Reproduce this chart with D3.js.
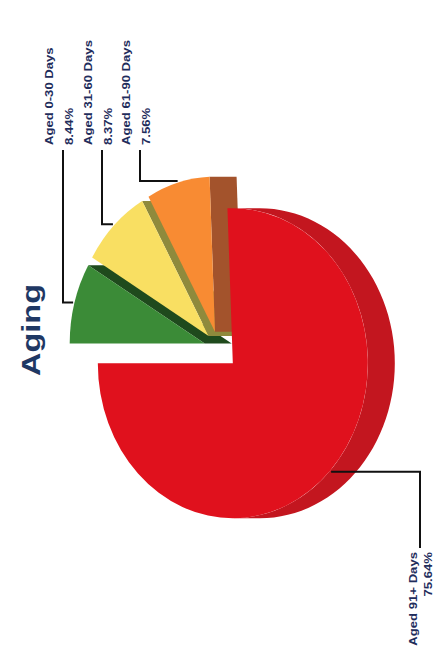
<!DOCTYPE html>
<html>
<head>
<meta charset="utf-8">
<script src="https://cdn.jsdelivr.net/npm/d3@7"></script>
<style>
  body { margin: 0; background: #fff; }
  svg { display: block; }
</style>
</head>
<body>
<div id="viz"></div>
<script>
const categories = ["Aged 0-30 Days", "Aged 31-60 Days", "Aged 61-90 Days", "Aged 91+ Days"];
const percents = [8.44, 8.37, 7.56, 75.64];
const title = "Aging";

const faceColors = ["#3b8b37", "#f9df62", "#f88b33", "#e0111d"];
const sideColors = ["#1f4a1d", "#8f8a3c", "#a3532c", "#c3161f"];

// the chart is printed turned a quarter, so draw it upright and rotate
const W = 436, H = 660;
const cx = 312, cy = 219, rx = 155, ry = 135, depth = 27;
const explode = [17, 17, 17, 22];
// label anchor: where the leader meets the label (upright frame)
const labelPos = [[510, 63], [510, 102], [510, 140], [112, 420]];

const svg = d3.select("#viz").append("svg")
    .attr("width", W)
    .attr("height", H);

const g = svg.append("g")
    .attr("transform", "translate(0," + H + ") rotate(-90)");

const pie = d3.pie().sort(null).value(d => d);
const arcs = pie(percents);

arcs.forEach((a, i) => {
  const mid = (a.startAngle + a.endAngle) / 2;
  a.ox = cx + explode[i] * Math.sin(mid);
  a.oy = cy - explode[i] * Math.cos(mid) * ry / rx;
  a.mid = mid;
});

const pt = (a, ang, k = 1) => [a.ox + rx * k * Math.sin(ang), a.oy - ry * k * Math.cos(ang)];

// side walls first
arcs.forEach((a, i) => {
  // radial wall on the clockwise edge, visible on the right half
  if (a.endAngle > 0.01 && a.endAngle < Math.PI) {
    const p = pt(a, a.endAngle);
    g.append("path")
      .attr("d", "M" + [a.ox, a.oy] + "L" + p + "L" + [p[0], p[1] + depth] +
        "L" + [a.ox, a.oy + depth] + "Z")
      .attr("fill", sideColors[i]);
  }
  // outer wall on the front half
  const s = Math.max(a.startAngle, Math.PI / 2), e = Math.min(a.endAngle, Math.PI * 1.5);
  if (e > s) {
    const angs = d3.range(0, 61).map(t => s + (e - s) * t / 60);
    const top = angs.map(t => pt(a, t));
    const bot = angs.map(t => pt(a, t)).map(p => [p[0], p[1] + depth]).reverse();
    g.append("path")
      .attr("d", d3.line()(top.concat(bot)) + "Z")
      .attr("fill", sideColors[i]);
  }
});

// top faces
const arc = d3.arc().innerRadius(0).outerRadius(100);
g.selectAll(".face")
  .data(arcs)
  .join("path")
  .attr("class", "face")
  .attr("transform", d => "translate(" + d.ox + "," + d.oy + ") scale(" + rx / 100 + "," + ry / 100 + ")")
  .attr("d", arc)
  .attr("fill", (d, i) => faceColors[i]);

// leader lines
arcs.forEach((a, i) => {
  const end = pt(a, a.mid, 1.01);
  const lp = labelPos[i];
  g.append("path")
    .attr("d", "M" + lp + "L" + [end[0], lp[1]] + "L" + end)
    .attr("fill", "none")
    .attr("stroke", "#111")
    .attr("stroke-width", 2);
});

// labels
const fmt = d => d.toFixed(2) + "%";
arcs.forEach((a, i) => {
  const lp = labelPos[i];
  const right = i === 3;
  const x = right ? lp[0] - 4 : lp[0] + 5;
  const lines = [categories[i], fmt(percents[i])];
  const offs = right ? [-3, 12] : [-10, 10];
  lines.forEach((t, j) => {
    g.append("text")
      .attr("transform", "translate(" + x + "," + (lp[1] + offs[j]) + ") scale(1.25,1)")
      .attr("text-anchor", right ? "end" : "start")
      .attr("font-family", "Liberation Sans, Arial, sans-serif")
      .attr("font-weight", "bold")
      .attr("font-size", 10.5)
      .attr("fill", "#1f2d5c")
      .text(t);
  });
});

// title
g.append("text")
  .attr("transform", "translate(330,40) scale(1.3,1)")
  .attr("text-anchor", "middle")
  .attr("font-family", "Liberation Sans, Arial, sans-serif")
  .attr("font-weight", "bold")
  .attr("font-size", 25)
  .attr("fill", "#1f3864")
  .text(title);
</script>
</body>
</html>
